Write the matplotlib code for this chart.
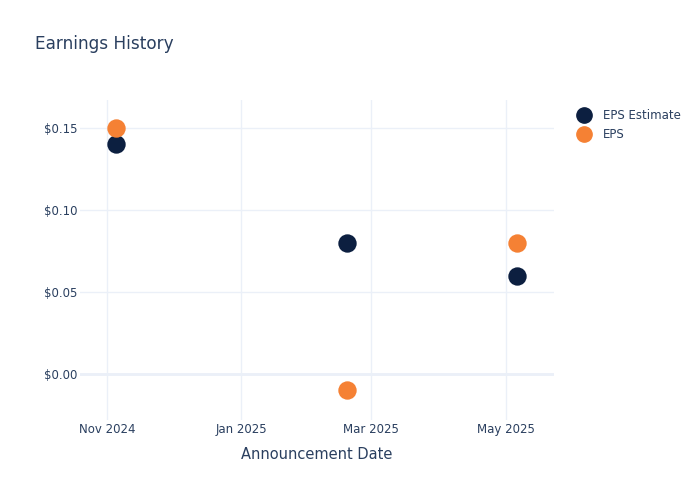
import matplotlib.pyplot as plt
import matplotlib.ticker as mticker
from matplotlib.lines import Line2D
from datetime import datetime

dates = ['2024-11-05', '2025-02-18', '2025-05-06']
eps_estimate = [0.14, 0.08, 0.06]
eps_actual = [0.15, -0.01, 0.08]
tick_dates = ['2024-11-01', '2025-01-01', '2025-03-01', '2025-05-01']
tick_labels = ['Nov 2024', 'Jan 2025', 'Mar 2025', 'May 2025']

txt = '#2a3f5f'
grid = '#ebf0f8'
navy = '#0c1f40'
orange = '#f58134'

x = [datetime.strptime(d, '%Y-%m-%d') for d in dates]
ticks = [datetime.strptime(d, '%Y-%m-%d') for d in tick_dates]

fig = plt.figure(figsize=(7, 5), dpi=100)
ax = fig.add_axes([80 / 700, 80 / 500, 474 / 700, 320 / 500])

ax.scatter(x, eps_estimate, s=175, color=navy, zorder=3, linewidths=0)
ax.scatter(x, eps_actual, s=175, color=orange, zorder=3, linewidths=0)

ax.set_xlim(datetime(2024, 10, 19, 16), datetime(2025, 5, 22, 22))
ax.set_ylim(-0.028, 0.167)
ax.set_xticks(ticks)
ax.set_xticklabels(tick_labels)
ax.set_yticks([0, 0.05, 0.10, 0.15])
ax.yaxis.set_major_formatter(mticker.FuncFormatter(lambda v, p: '$%.2f' % v))

ax.grid(True, color=grid, linewidth=1, zorder=0)
ax.axhline(0, color=grid, linewidth=2, zorder=1)
for s in ax.spines.values():
    s.set_visible(False)
ax.tick_params(length=0, colors=txt, labelsize=8.5, pad=2)
ax.tick_params(axis='x', pad=2)
ax.set_xlabel('Announcement Date', color=txt, fontsize=10.5, labelpad=8)

fig.text(35 / 700, 1 - 44 / 500, 'Earnings History', color=txt, fontsize=12.2, va='center')

handles = [
    Line2D([], [], marker='o', linestyle='', markersize=11, color=navy, label='EPS Estimate'),
    Line2D([], [], marker='o', linestyle='', markersize=11, color=orange, label='EPS'),
]
leg = fig.legend(handles=handles, loc='upper left', bbox_to_anchor=(571 / 700, 1 - 104 / 500),
                 frameon=False, fontsize=8.5, handletextpad=0.9, labelspacing=0.55,
                 handlelength=1.4, borderaxespad=0)
for t in leg.get_texts():
    t.set_color(txt)

fig.savefig('out.png', dpi=100)
